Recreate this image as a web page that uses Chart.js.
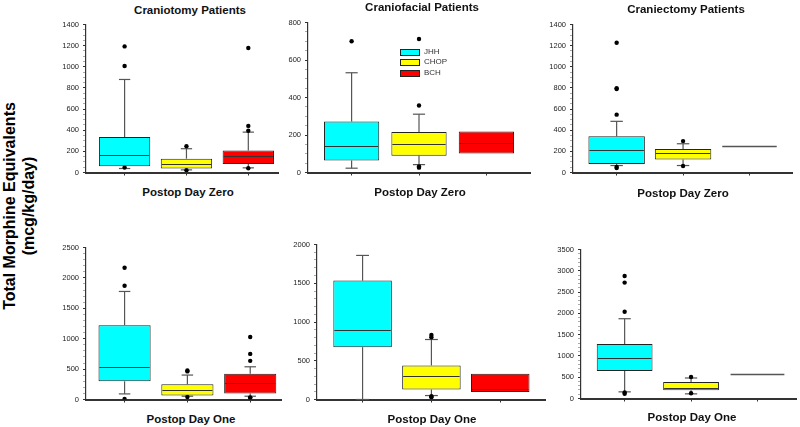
<!DOCTYPE html>
<html><head><meta charset="utf-8">
<script src="https://cdn.jsdelivr.net/npm/chart.js@4.4.1/dist/chart.umd.min.js"></script>
<style>
html,body{margin:0;padding:0;background:#fff;width:800px;height:427px;overflow:hidden;position:relative;font-family:"Liberation Sans",Arial,sans-serif;}
.t{position:absolute;transform:translate(-50%,-50%);white-space:nowrap;font-weight:bold;font-size:11.5px;color:#111;}
.yt{position:absolute;white-space:nowrap;font-weight:bold;font-size:16px;color:#000;transform:translate(-50%,-50%) rotate(-90deg);}
.lg{position:absolute;font-size:8px;color:#333;white-space:nowrap;}
.lgb{position:absolute;width:18px;height:5px;border:1px solid #222;}
canvas{position:absolute;}
</style></head><body>
<script>
// ---- categories ----
const groups = ['JHH', 'CHOP', 'BCH'];
const groupColors = ['#00FFFF', '#FFFF00', '#FF0000'];

// ---- Craniotomy, Postop Day Zero ----
const craniotomyD0Low = [38, 25, 44];
const craniotomyD0Q1 = [60, 38, 81];
const craniotomyD0Median = [169, 85, 157];
const craniotomyD0Q3 = [335, 131, 207];
const craniotomyD0High = [880, 225, 382];
const craniotomyD0Outliers = [[1193, 1008, 48], [248, 22], [1178, 441, 395, 40]];
const craniotomyD0Ticks = [0, 200, 400, 600, 800, 1000, 1200, 1400];

// ---- Craniofacial, Postop Day Zero ----
const craniofacialD0Low = [23, 42, 102];
const craniofacialD0Q1 = [64, 90, 102];
const craniofacialD0Median = [141, 150, 159];
const craniofacialD0Q3 = [272, 216, 219];
const craniofacialD0High = [532, 311, 219];
const craniofacialD0Outliers = [[700], [712, 357, 32, 26], []];
const craniofacialD0Ticks = [0, 200, 400, 600, 800];

// ---- Craniectomy, Postop Day Zero ----
const craniectomyD0Low = [66, 66, 250];
const craniectomyD0Q1 = [81, 122, 250];
const craniectomyD0Median = [216, 181, 250];
const craniectomyD0Q3 = [344, 222, 250];
const craniectomyD0High = [484, 272, 250];
const craniectomyD0Outliers = [[1228, 797, 790, 547, 53, 42], [297, 62], []];
const craniectomyD0Ticks = [0, 200, 400, 600, 800, 1000, 1200, 1400];

// ---- Craniotomy, Postop Day One ----
const craniotomyD1Low = [92, 54, 54];
const craniotomyD1Q1 = [299, 65, 98];
const craniotomyD1Median = [527, 158, 272];
const craniotomyD1Q3 = [1223, 250, 424];
const craniotomyD1High = [1777, 402, 538];
const craniotomyD1Outliers = [[2168, 1870, 10], [478, 462, 40], [1027, 750, 636, 35, 27]];
const craniotomyD1Ticks = [0, 500, 1000, 1500, 2000, 2500];

// ---- Craniofacial, Postop Day One ----
const craniofacialD1Low = [0, 51, 98];
const craniofacialD1Q1 = [675, 128, 98];
const craniofacialD1Median = [902, 303, 137];
const craniofacialD1Q3 = [1534, 440, 333];
const craniofacialD1High = [1859, 774, 333];
const craniofacialD1Outliers = [[], [833, 803, 43, 30], []];
const craniofacialD1Ticks = [0, 500, 1000, 1500, 2000];

// ---- Craniectomy, Postop Day One ----
const craniectomyD1Low = [156, 109, 575];
const craniectomyD1Q1 = [645, 194, 575];
const craniectomyD1Median = [949, 257, 575];
const craniectomyD1Q3 = [1283, 389, 575];
const craniectomyD1High = [1874, 482, 575];
const craniectomyD1Outliers = [[2877, 2722, 2037, 140, 109], [505, 124], []];
const craniectomyD1Ticks = [0, 500, 1000, 1500, 2000, 2500, 3000, 3500];

// ---- texts ----
const panelTitles = ['Craniotomy Patients', 'Craniofacial Patients', 'Craniectomy Patients'];
const dayLabels = ['Postop Day Zero', 'Postop Day One'];
const yTitleLines = ['Total Morphine Equivalents', '(mcg/kg/day)'];

// ---- panels (data references + layout) ----
const panels = [
  {lo: craniotomyD0Low, q1: craniotomyD0Q1, med: craniotomyD0Median, q3: craniotomyD0Q3, hi: craniotomyD0High, out: craniotomyD0Outliers, ticks: craniotomyD0Ticks, minor: 50,
   ax: 86, right: 280, top: 24, bottom: 173, xMin: 0.376, xMax: 3.48, bp: 0.83},
  {lo: craniofacialD0Low, q1: craniofacialD0Q1, med: craniofacialD0Median, q3: craniofacialD0Q3, hi: craniofacialD0High, out: craniofacialD0Outliers, ticks: craniofacialD0Ticks, minor: 50,
   ax: 308, right: 532, top: 22, bottom: 173, xMin: 0.353, xMax: 3.647, bp: 0.82},
  {lo: craniectomyD0Low, q1: craniectomyD0Q1, med: craniectomyD0Median, q3: craniectomyD0Q3, hi: craniectomyD0High, out: craniectomyD0Outliers, ticks: craniectomyD0Ticks, minor: 50,
   ax: 573, right: 794, top: 24, bottom: 173, xMin: 0.343, xMax: 3.64, bp: 0.85},
  {lo: craniotomyD1Low, q1: craniotomyD1Q1, med: craniotomyD1Median, q3: craniotomyD1Q3, hi: craniotomyD1High, out: craniotomyD1Outliers, ticks: craniotomyD1Ticks, minor: 100,
   ax: 86, right: 283, top: 247, bottom: 400, xMin: 0.386, xMax: 3.49, bp: 0.83},
  {lo: craniofacialD1Low, q1: craniofacialD1Q1, med: craniofacialD1Median, q3: craniofacialD1Q3, hi: craniofacialD1High, out: craniofacialD1Outliers, ticks: craniofacialD1Ticks, minor: 100,
   ax: 317, right: 547, top: 244, bottom: 400, xMin: 0.338, xMax: 3.65, bp: 0.85},
  {lo: craniectomyD1Low, q1: craniectomyD1Q1, med: craniectomyD1Median, q3: craniectomyD1Q3, hi: craniectomyD1High, out: craniectomyD1Outliers, ticks: craniectomyD1Ticks, minor: 100,
   ax: 581, right: 798, top: 249, bottom: 399, xMin: 0.343, xMax: 3.58, bp: 0.84}
];

const WY = 34, T = 8, R = 2, HX = 8;
const FONT = '"Liberation Sans", Arial, sans-serif';

const boxPlugin = {
  id: 'boxParts',
  beforeDatasetsDraw(chart) {
    const p = chart.$panel, y = chart.scales.y, ctx = chart.ctx;
    const meta = chart.getDatasetMeta(0);
    ctx.save();
    ctx.strokeStyle = '#555';
    ctx.lineWidth = 1.2;
    meta.data.forEach((el, i) => {
      const {x, width} = el.getProps(['x', 'width'], true);
      const cap = width * 0.22;
      const seg = (a, b) => {
        if (a === b) return;
        ctx.beginPath();
        ctx.moveTo(x, y.getPixelForValue(a));
        ctx.lineTo(x, y.getPixelForValue(b));
        ctx.stroke();
        const yy = y.getPixelForValue(b);
        ctx.beginPath();
        ctx.moveTo(x - cap / 2, yy);
        ctx.lineTo(x + cap / 2, yy);
        ctx.stroke();
      };
      seg(p.q3[i], p.hi[i]);
      seg(p.q1[i], p.lo[i]);
    });
    ctx.restore();
  },
  afterDatasetsDraw(chart) {
    const p = chart.$panel, y = chart.scales.y, ctx = chart.ctx;
    const meta = chart.getDatasetMeta(0);
    ctx.save();
    meta.data.forEach((el, i) => {
      const {x, width} = el.getProps(['x', 'width'], true);
      const single = p.q1[i] === p.q3[i];
      ctx.strokeStyle = single ? '#555' : '#333';
      ctx.lineWidth = single ? 1.5 : 1;
      const yy = Math.round(y.getPixelForValue(p.med[i])) + 0.5;
      ctx.beginPath();
      ctx.moveTo(x - width / 2 + 1, yy);
      ctx.lineTo(x + width / 2 - 1, yy);
      ctx.stroke();
    });
    ctx.restore();
  }
};

panels.forEach((p, k) => {
  const left = p.ax - WY, top = p.top - T;
  const w = p.right + R - left, h = p.bottom + HX - top;
  const cv = document.createElement('canvas');
  cv.width = w; cv.height = h;
  cv.style.left = left + 'px'; cv.style.top = top + 'px';
  cv.style.width = w + 'px'; cv.style.height = h + 'px';
  document.body.appendChild(cv);

  const yMax = p.ticks[p.ticks.length - 1];
  const outPts = [];
  p.out.forEach((arr, i) => arr.forEach(v => outPts.push({x: i + 1, y: v})));

  const chart = new Chart(cv, {
    type: 'bar',
    data: {
      datasets: [
        {
          label: 'box',
          data: groups.map((g, i) => ({x: i + 1, y: [p.q1[i], p.q3[i]]})),
          backgroundColor: groupColors,
          borderColor: '#222',
          borderWidth: groups.map((g, i) => p.q1[i] === p.q3[i] ? 0 : 1),
          borderSkipped: false,
          categoryPercentage: 1,
          barPercentage: p.bp
        },
        {
          type: 'scatter',
          label: 'outliers',
          data: outPts,
          pointRadius: 2.2,
          pointBackgroundColor: '#000',
          pointBorderWidth: 0
        }
      ]
    },
    options: {
      responsive: false,
      animation: false,
      events: [],
      layout: {padding: {left: 0, right: R, top: T, bottom: 0}},
      plugins: {legend: {display: false}, tooltip: {enabled: false}, title: {display: false}},
      scales: {
        x: {
          type: 'linear', min: p.xMin, max: p.xMax, offset: false,
          afterFit: s => { s.height = HX; },
          afterBuildTicks: s => { s.ticks = [{value: 1}, {value: 2}, {value: 3}]; },
          ticks: {display: false},
          grid: {drawOnChartArea: false, tickLength: 3, color: '#333', offset: false},
          border: {color: '#333', width: 2}
        },
        y: {
          type: 'linear', min: 0, max: yMax,
          afterFit: s => { s.width = WY; },
          afterBuildTicks: s => {
            const t = [];
            for (let v = 0; v <= yMax + 1e-6; v += p.minor) t.push({value: v});
            s.ticks = t;
          },
          ticks: {
            autoSkip: false, padding: 4, color: '#222',
            font: {size: 7.5, family: FONT},
            callback: v => p.ticks.includes(v) ? String(v) : ''
          },
          grid: {
            drawOnChartArea: false, tickLength: 3,
            color: c => (c.tick && p.ticks.includes(c.tick.value)) ? '#333' : '#aaa'
          },
          border: {color: '#333', width: 1.2}
        }
      }
    },
    plugins: [{id: 'attach', beforeInit(c) { c.$panel = p; }}, boxPlugin]
  });
});

// ---- texts ----
function addText(cls, txt, x, y) {
  const d = document.createElement('div');
  d.className = cls; d.textContent = txt;
  d.style.left = x + 'px'; d.style.top = y + 'px';
  document.body.appendChild(d);
}
addText('t', panelTitles[0], 190, 10);
addText('t', panelTitles[1], 422, 7);
addText('t', panelTitles[2], 686, 9);
addText('t', dayLabels[0], 188, 192);
addText('t', dayLabels[0], 420, 192);
addText('t', dayLabels[0], 683, 193);
addText('t', dayLabels[1], 191, 419);
addText('t', dayLabels[1], 432, 419);
addText('t', dayLabels[1], 692, 417);
addText('yt', yTitleLines[0], 10, 206);
addText('yt', yTitleLines[1], 29, 206);

// ---- legend ----
groups.forEach((g, i) => {
  const yc = [52, 62, 73][i];
  const b = document.createElement('div');
  b.className = 'lgb';
  b.style.left = '400px'; b.style.top = (yc - 3) + 'px';
  b.style.background = groupColors[i];
  document.body.appendChild(b);
  const t = document.createElement('div');
  t.className = 'lg'; t.textContent = g;
  t.style.left = '424px'; t.style.top = (yc - 5) + 'px';
  document.body.appendChild(t);
});
</script>
</body></html>
